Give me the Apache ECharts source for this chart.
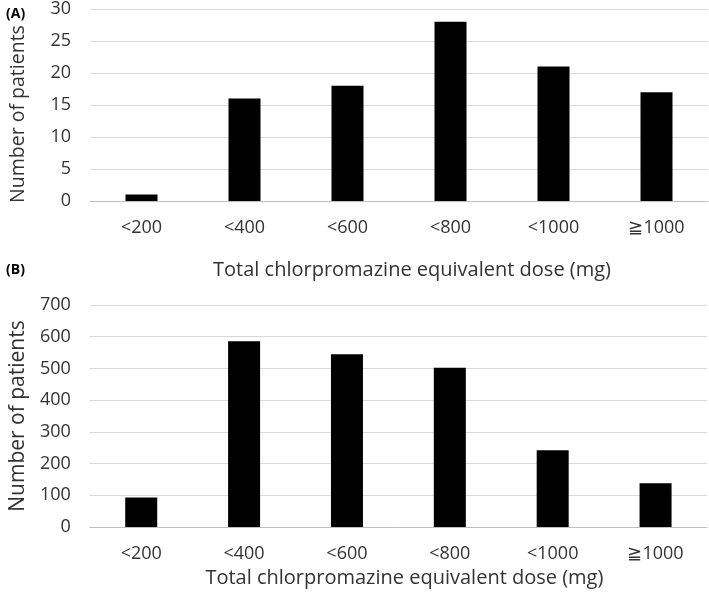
<!DOCTYPE html>
<html><head><meta charset="utf-8">
<script src="https://cdn.jsdelivr.net/npm/echarts@6/dist/echarts.min.js"></script>
<style>html,body{margin:0;padding:0;background:#fff}#c{width:709px;height:592px}</style>
</head><body><div id="c"></div>
<script>
const categories = ['<200', '<400', '<600', '<800', '<1000', '≧1000'];
const valuesA = [1, 16, 18, 28, 21, 17];
const valuesB = [93, 586, 545, 502, 242, 138];
const ticksA = {min: 0, max: 30, interval: 5};
const ticksB = {min: 0, max: 700, interval: 100};
const xName = 'Total chlorpromazine equivalent dose (mg)';
const yName = 'Number of patients';

const font = 'Open Sans';
const txt = '#333333';
const chart = echarts.init(document.getElementById('c'));
function xAxis(idx, gap, pad) {
  return {
    type: 'category', gridIndex: idx, data: categories,
    name: xName, nameLocation: 'middle', nameGap: gap,
    nameTextStyle: {fontFamily: font, fontSize: 20, color: txt, padding: [0, 0, 0, pad]},
    axisTick: {show: false},
    axisLine: {lineStyle: {color: '#bfbfbf', width: 1}},
    axisLabel: {fontFamily: font, fontSize: 18, color: txt, margin: 18}
  };
}
function yAxis(idx, t, gap, size, pad) {
  return {
    type: 'value', gridIndex: idx, min: t.min, max: t.max, interval: t.interval,
    name: yName, nameLocation: 'middle', nameGap: gap,
    nameTextStyle: {fontFamily: font, fontSize: size, color: txt, padding: [0, pad, 0, 0]},
    axisLine: {show: false}, axisTick: {show: false},
    splitLine: {lineStyle: {color: '#d9d9d9', width: 1}},
    axisLabel: {fontFamily: font, fontSize: 18, color: txt, margin: 19}
  };
}
chart.setOption({
  animation: false,
  title: [
    {text: '(A)', left: 1, top: 2, textStyle: {fontFamily: font, fontSize: 14, fontWeight: 'bold', color: '#000'}},
    {text: '(B)', left: 1, top: 258, textStyle: {fontFamily: font, fontSize: 14, fontWeight: 'bold', color: '#000'}}
  ],
  grid: [
    {left: 86, top: 8, width: 622, height: 193},
    {left: 83, top: 305, width: 624, height: 222}
  ],
  xAxis: [xAxis(0, 59, 26), xAxis(1, 41, 12)],
  yAxis: [yAxis(0, ticksA, 62, 19.5, 18), yAxis(1, ticksB, 58, 21, 0)],
  series: [
    {type: 'bar', xAxisIndex: 0, yAxisIndex: 0, data: valuesA, barWidth: 32, itemStyle: {color: '#000'}},
    {type: 'bar', xAxisIndex: 1, yAxisIndex: 1, data: valuesB, barWidth: 32, itemStyle: {color: '#000'}}
  ]
});
</script></body></html>
